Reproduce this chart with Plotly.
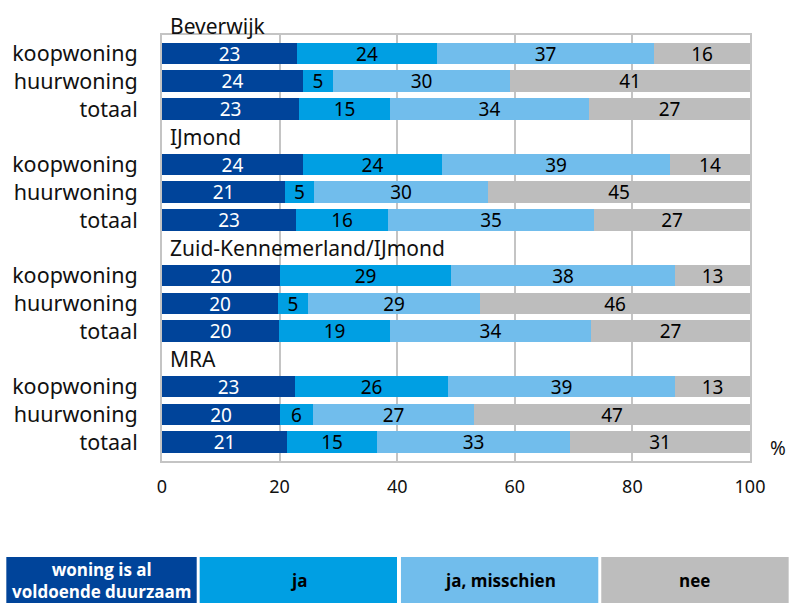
import plotly.graph_objects as go

# ---- data ----
groups = ["Beverwijk", "IJmond", "Zuid-Kennemerland/IJmond", "MRA"]
rows = ["koopwoning", "huurwoning", "totaal"]
series = ["woning is al voldoende duurzaam", "ja", "ja, misschien", "nee"]
legend_text = ["woning is al<br>voldoende duurzaam", "ja", "ja, misschien", "nee"]
colors = ["#00449A", "#009FE3", "#71BDEC", "#BDBDBD"]
text_colors = ["white", "black", "black", "black"]

# values per series, order: group by group, koopwoning/huurwoning/totaal
al_duurzaam = [23.0, 23.9, 23.3, 24.0, 21.0, 22.8, 20.1, 19.7, 19.9, 22.6, 20.1, 21.3]
ja = [23.7, 5.2, 15.4, 23.6, 4.8, 15.6, 29.0, 5.1, 18.8, 26.0, 5.6, 15.3]
ja_misschien = [37.0, 30.0, 33.9, 38.8, 29.6, 35.0, 38.2, 29.3, 34.3, 38.7, 27.3, 32.8]
nee = [16.3, 40.9, 27.4, 13.6, 44.6, 26.6, 12.7, 45.9, 27.0, 12.7, 47.0, 30.6]
values = [al_duurzaam, ja, ja_misschien, nee]
x_ticks = [0, 20, 40, 60, 80, 100]

# ---- layout geometry (pixels) ----
W, H = 789, 603
L, R, T, B = 157, 750, 35, 461
def px(x):
    return (x - L) / (R - L)
def py(y):
    return (B - y) / (B - T)

ypos = [g * 4 + r for g in range(len(groups)) for r in range(len(rows))]
ylabels = [rows[r] for g in range(len(groups)) for r in range(len(rows))]
y_top, y_bot = -0.667, 14.68
def ypix(v):
    return T + (v - y_top) / (y_bot - y_top) * (B - T)

fig = go.Figure()
for s, name in enumerate(series):
    fig.add_trace(go.Bar(
        y=ypos, x=values[s], orientation="h", name=name,
        marker=dict(color=colors[s], line=dict(width=0)),
        width=0.78,
        texttemplate="%{x:.0f}", textposition="inside", insidetextanchor="middle",
        textangle=0,
        textfont=dict(family="Noto Sans", size=19, color=text_colors[s]),
        constraintext="none",
        hoverinfo="skip", showlegend=False,
    ))

annotations = []
for g, grp in enumerate(groups):
    annotations.append(dict(
        x=px(L + 6), y=py(ypix(g * 4 - 1)), xref="paper", yref="paper",
        text=grp, showarrow=False,
        xanchor="left", yanchor="middle",
        font=dict(family="Noto Sans", size=21, color="#111111"),
    ))
annotations.append(dict(
    x=px(778), y=py(448), xref="paper", yref="paper", text="%", showarrow=False,
    xanchor="center", yanchor="middle",
    font=dict(family="Noto Sans", size=19, color="#111111"),
))

# legend boxes at bottom
box_x = [(0, 192), (195, 394), (398, 597), (600, 789)]
shapes = []
for i, (x0, x1) in enumerate(box_x):
    shapes.append(dict(
        type="rect", xref="paper", yref="paper",
        x0=px(x0), x1=px(x1), y0=py(557), y1=py(605),
        fillcolor=colors[i], line=dict(width=0), layer="above",
    ))
    annotations.append(dict(
        x=px((x0 + x1) / 2), y=py(580), xref="paper", yref="paper",
        text="<b>" + legend_text[i] + "</b>", showarrow=False,
        xanchor="center", yanchor="middle", align="center",
        font=dict(family="Open Sans", size=17, color=text_colors[i]),
    ))

fig.update_layout(
    width=W, height=H, barmode="stack", bargap=0,
    plot_bgcolor="white", paper_bgcolor="white",
    margin=dict(l=L, r=W - R, t=T, b=H - B, pad=0),
    annotations=annotations, shapes=shapes,
    xaxis=dict(
        range=[0, 100], tickvals=x_ticks, ticktext=[str(v) for v in x_ticks],
        showgrid=True, gridcolor="#C4C4C4", gridwidth=2,
        showline=True, linecolor="#C4C4C4", linewidth=2, mirror=True,
        zeroline=False, ticks="", ticklabelstandoff=8,
        tickfont=dict(family="Noto Sans", size=18, color="#111111"),
        fixedrange=True,
    ),
    yaxis=dict(
        range=[y_bot, y_top], tickvals=ypos, ticktext=ylabels,
        showgrid=False, showline=True, linecolor="#C4C4C4", linewidth=2, mirror=True,
        zeroline=False, ticks="", ticklabelstandoff=18,
        tickfont=dict(family="Noto Sans", size=21.5, color="#111111"),
        fixedrange=True,
    ),
)

fig.write_html("out.html", config={"displayModeBar": False},
               post_script="document.body.style.margin='0';document.body.style.overflow='hidden';")
